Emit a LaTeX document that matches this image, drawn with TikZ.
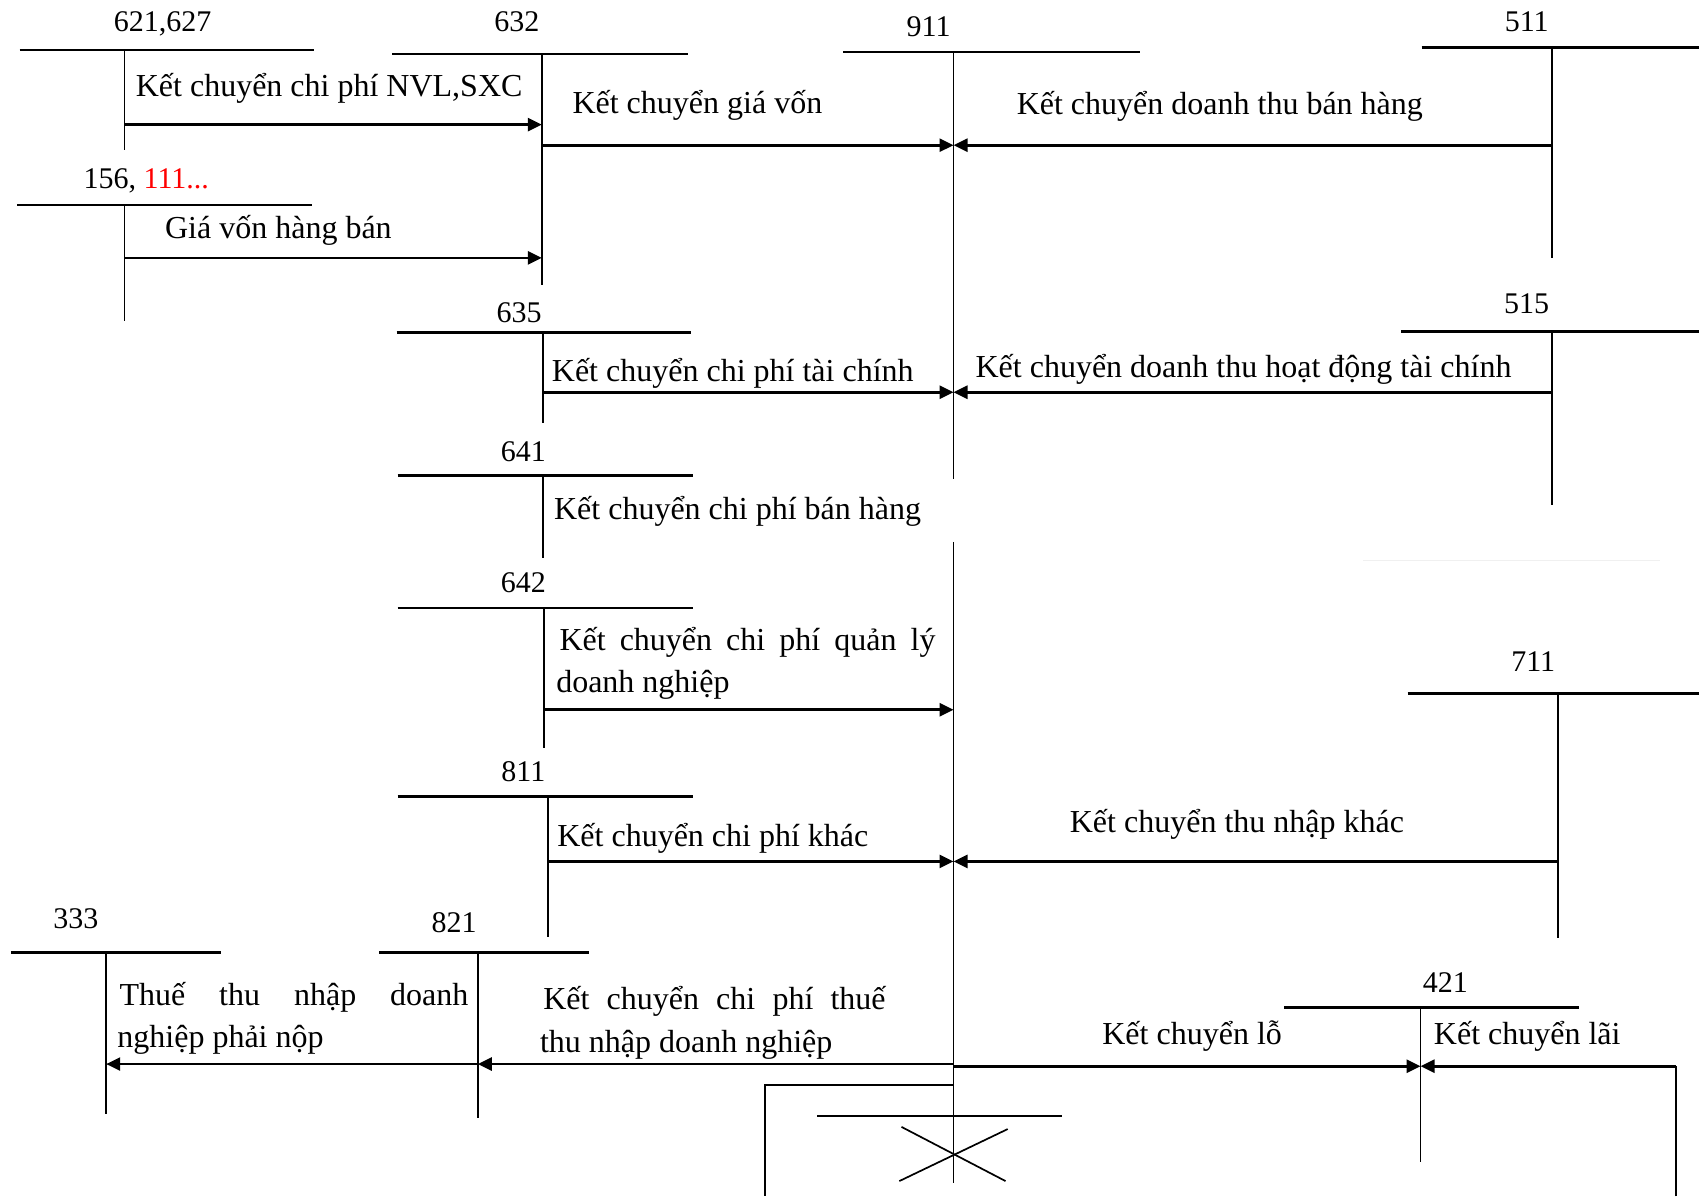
\documentclass[tikz,border=0pt]{standalone}
\usepackage{fontspec}
\setmainfont{Liberation Serif}
\usetikzlibrary{arrows.meta}
\begin{document}
\begin{tikzpicture}[x=0.54175pt,y=-0.54175pt,
 tbar/.style={line width=1.3pt},
 tstem/.style={line width=0.85pt},
 arr/.style={line width=1.35pt,-{Triangle[length=7pt,width=6.5pt]}},
 acc/.style={font=\fontsize{15}{18}\selectfont,anchor=base,inner sep=0pt},
 lbl/.style={font=\fontsize{16}{19}\selectfont,anchor=base west,inner sep=0pt}]
\useasboundingbox[fill=white] (0,0) rectangle (1568,1104);

% ---------- 621,627 ----------
\node[acc] (n621) at (150,29) {621,627};
\draw[tbar] (18,46) -- (290,46);
\draw[tstem] (115,46) -- (115,138);
% ---------- 632 ----------
\node[acc] (n632) at (477,29) {632};
\draw[tbar] (362,50) -- (635,50);
\draw[tstem] (500,50) -- (500,263);
% ---------- 156,111 ----------
\node[acc] (n156) at (135,174) {156, \textcolor{red}{111...}};
\draw[tbar] (16,189) -- (288,189);
\draw[tstem] (115,189) -- (115,296);
% ---------- 911 ----------
\node[acc] (n911) at (857,34) {911};
\draw[tbar] (778,48) -- (1052,48);
\draw[tstem] (880,48) -- (880,442);
\draw[tstem] (880,500) -- (880,1092);
% ---------- 511 ----------
\node[acc] (n511) at (1409,29) {511};
\draw[tbar] (1312,44) -- (1568,44);
\draw[tstem] (1432,44) -- (1432,238);
% ---------- 635 ----------
\node[acc] (n635) at (479,298) {635};
\draw[tbar] (366,307) -- (638,307);
\draw[tstem] (501,307) -- (501,390);
% ---------- 515 ----------
\node[acc] (n515) at (1409,289) {515};
\draw[tbar] (1293,306) -- (1568,306);
\draw[tstem] (1432,306) -- (1432,466);
% ---------- 641 ----------
\node[acc] (n641) at (483,426) {641};
\draw[tbar] (367,439) -- (640,439);
\draw[tstem] (501,439) -- (501,515);
\draw[gray!12,line width=0.5pt] (1258,517) -- (1532,517);
% ---------- 642 ----------
\node[acc] (n642) at (483,547) {642};
\draw[tbar] (367,561) -- (640,561);
\draw[tstem] (502,561) -- (502,690);
% ---------- 711 ----------
\node[acc] (n711) at (1415,620) {711};
\draw[tbar] (1299,640) -- (1568,640);
\draw[tstem] (1438,640) -- (1438,866);
% ---------- 811 ----------
\node[acc] (n811) at (483,721) {811};
\draw[tbar] (367,735) -- (640,735);
\draw[tstem] (506,735) -- (506,865);
% ---------- 333 ----------
\node[acc] (n333) at (70,857) {333};
\draw[tbar] (10,879) -- (204,879);
\draw[tstem] (98,879) -- (98,1028);
% ---------- 821 ----------
\node[acc] (n821) at (419,861) {821};
\draw[tbar] (350,879) -- (544,879);
\draw[tstem] (441,879) -- (441,1032);
% ---------- 421 ----------
\node[acc] (n421) at (1334,916) {421};
\draw[tbar] (1185,930) -- (1457,930);
\draw[tstem] (1311,930) -- (1311,1072);

% ---------- connector coordinates ----------
\coordinate (s621) at (115,115);  \coordinate (e632a) at (500,115);
\coordinate (s156) at (115,238);  \coordinate (e632b) at (500,238);
\coordinate (s632) at (500,134);  \coordinate (e911a) at (880,134);
\coordinate (s511) at (1432,134);
\coordinate (s635) at (501,362);  \coordinate (e911b) at (880,362);
\coordinate (s515) at (1432,362);
\coordinate (s642) at (502,655);  \coordinate (e911c) at (880,655);
\coordinate (s811) at (506,795);  \coordinate (e911d) at (880,795);
\coordinate (s711) at (1438,795);
\coordinate (s911t) at (880,982); \coordinate (e821) at (441,982);
\coordinate (e333) at (98,982);
\coordinate (s911l) at (880,984); \coordinate (e421) at (1311,984);
\coordinate (c421r) at (1547,984); \coordinate (b421r) at (1547,1104);

\draw[arr] (s621) -- (e632a);
\draw[arr] (s156) -- (e632b);
\draw[arr] (s632) -- (e911a);
\draw[arr] (s511) -- (e911a);
\draw[arr] (s635) -- (e911b);
\draw[arr] (s515) -- (e911b);
\draw[arr] (s642) -- (e911c);
\draw[arr] (s811) -- (e911d);
\draw[arr] (s711) -- (e911d);
\draw[arr] (s911t) -- (e821);
\draw[arr] (e821) -- (e333);
\draw[arr] (s911l) -- (e421);
\draw[line width=0.85pt] (b421r) -- (c421r);
\draw[arr] (c421r) -- (e421);

% ---------- bottom of 911 ----------
\draw[line width=0.85pt] (880,1001) -- (706,1001) -- (706,1104);
\draw[line width=0.85pt] (754,1030) -- (980,1030);
\draw[line width=0.85pt] (832,1040) -- (928,1090);
\draw[line width=0.85pt] (830,1090) -- (930,1042);

% ---------- labels ----------
\node[lbl] (t1) at (125,89) {Kết chuyển chi phí NVL,SXC};
\node[lbl] (t2) at (528,105) {Kết chuyển giá vốn};
\node[lbl] (t3) at (938,106) {Kết chuyển doanh thu bán hàng};
\node[lbl] (t4) at (152,220) {Giá vốn hàng bán};
\node[lbl] (t5) at (509,352) {Kết chuyển chi phí tài chính};
\node[lbl] (t6) at (900,348) {Kết chuyển doanh thu hoạt động tài chính};
\node[lbl] (t7) at (511,479) {Kết chuyển chi phí bán hàng};
\node[lbl] (t8) at (516,600) {\makebox[188pt][s]{Kết chuyển chi phí quản lý}};
\node[lbl] (t8b) at (513,639) {doanh nghiệp};
\node[lbl] (t9) at (987,768) {Kết chuyển thu nhập khác};
\node[lbl] (t10) at (514,781) {Kết chuyển chi phí khác};
\node[lbl] (t11) at (110,928) {\makebox[174.4pt][s]{Thuế thu nhập doanh}};
\node[lbl] (t11b) at (108,967) {nghiệp phải nộp};
\node[lbl] (t12) at (501,932) {\makebox[171.2pt][s]{Kết chuyển chi phí thuế}};
\node[lbl] (t12b) at (498,971) {thu nhập doanh nghiệp};
\node[lbl] (t13) at (1017,964) {Kết chuyển lỗ};
\node[lbl] (t14) at (1323,964) {Kết chuyển lãi};
\end{tikzpicture}
\end{document}
